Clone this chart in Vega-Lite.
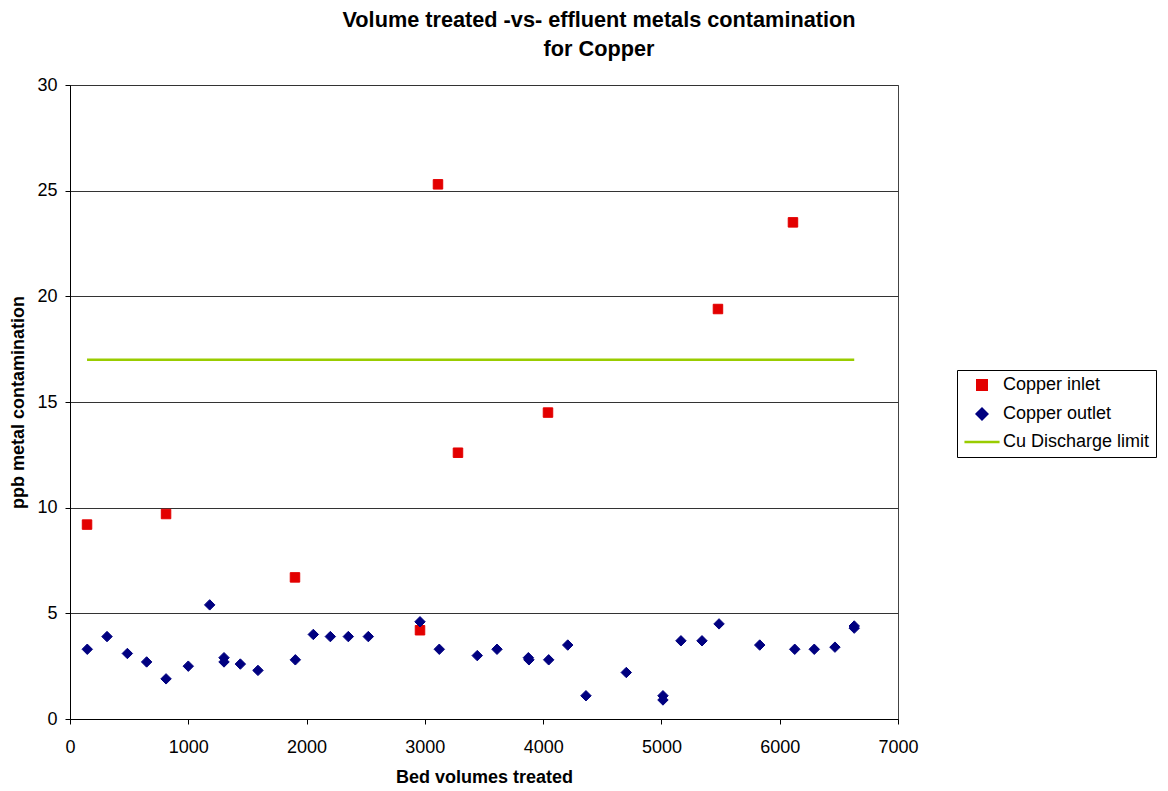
{
  "$schema": "https://vega.github.io/schema/vega-lite/v6.json",
  "width": 828,
  "height": 634,
  "autosize": {"type": "none"},
  "padding": {"left": 70, "top": 85, "right": 270, "bottom": 72},
  "background": "white",
  "config": {
    "font": "Liberation Sans",
    "view": {"stroke": "#444444", "strokeWidth": 1}
  },
  "title": {
    "text": ["Volume treated -vs- effluent metals contamination", "for Copper"],
    "font": "Liberation Sans",
    "fontSize": 21.7,
    "fontWeight": "bold",
    "color": "#000000",
    "anchor": "middle",
    "dx": 115,
    "offset": 15,
    "lineHeight": 29
  },
  "data": {
    "values": [
      {"bv": 144, "ppb": 9.2, "series": "Copper inlet"},
      {"bv": 812, "ppb": 9.7, "series": "Copper inlet"},
      {"bv": 1902, "ppb": 6.7, "series": "Copper inlet"},
      {"bv": 2959, "ppb": 4.2, "series": "Copper inlet"},
      {"bv": 3111, "ppb": 25.3, "series": "Copper inlet"},
      {"bv": 3280, "ppb": 12.6, "series": "Copper inlet"},
      {"bv": 4041, "ppb": 14.5, "series": "Copper inlet"},
      {"bv": 5478, "ppb": 19.4, "series": "Copper inlet"},
      {"bv": 6112, "ppb": 23.5, "series": "Copper inlet"},
      {"bv": 146, "ppb": 3.3, "series": "Copper outlet"},
      {"bv": 313, "ppb": 3.9, "series": "Copper outlet"},
      {"bv": 485, "ppb": 3.1, "series": "Copper outlet"},
      {"bv": 648, "ppb": 2.7, "series": "Copper outlet"},
      {"bv": 812, "ppb": 1.9, "series": "Copper outlet"},
      {"bv": 1000, "ppb": 2.5, "series": "Copper outlet"},
      {"bv": 1181, "ppb": 5.4, "series": "Copper outlet"},
      {"bv": 1302, "ppb": 2.9, "series": "Copper outlet"},
      {"bv": 1302, "ppb": 2.7, "series": "Copper outlet"},
      {"bv": 1440, "ppb": 2.6, "series": "Copper outlet"},
      {"bv": 1589, "ppb": 2.3, "series": "Copper outlet"},
      {"bv": 1905, "ppb": 2.8, "series": "Copper outlet"},
      {"bv": 2057, "ppb": 4.0, "series": "Copper outlet"},
      {"bv": 2201, "ppb": 3.9, "series": "Copper outlet"},
      {"bv": 2353, "ppb": 3.9, "series": "Copper outlet"},
      {"bv": 2522, "ppb": 3.9, "series": "Copper outlet"},
      {"bv": 2959, "ppb": 4.6, "series": "Copper outlet"},
      {"bv": 3122, "ppb": 3.3, "series": "Copper outlet"},
      {"bv": 3443, "ppb": 3.0, "series": "Copper outlet"},
      {"bv": 3610, "ppb": 3.3, "series": "Copper outlet"},
      {"bv": 3875, "ppb": 2.9, "series": "Copper outlet"},
      {"bv": 3880, "ppb": 2.8, "series": "Copper outlet"},
      {"bv": 4047, "ppb": 2.8, "series": "Copper outlet"},
      {"bv": 4208, "ppb": 3.5, "series": "Copper outlet"},
      {"bv": 4362, "ppb": 1.1, "series": "Copper outlet"},
      {"bv": 4703, "ppb": 2.2, "series": "Copper outlet"},
      {"bv": 5013, "ppb": 1.1, "series": "Copper outlet"},
      {"bv": 5013, "ppb": 0.9, "series": "Copper outlet"},
      {"bv": 5165, "ppb": 3.7, "series": "Copper outlet"},
      {"bv": 5343, "ppb": 3.7, "series": "Copper outlet"},
      {"bv": 5487, "ppb": 4.5, "series": "Copper outlet"},
      {"bv": 5831, "ppb": 3.5, "series": "Copper outlet"},
      {"bv": 6127, "ppb": 3.3, "series": "Copper outlet"},
      {"bv": 6292, "ppb": 3.3, "series": "Copper outlet"},
      {"bv": 6467, "ppb": 3.4, "series": "Copper outlet"},
      {"bv": 6630, "ppb": 4.3, "series": "Copper outlet"},
      {"bv": 6630, "ppb": 4.4, "series": "Copper outlet"},
      {"bv": 144, "ppb": 17, "series": "Cu Discharge limit"},
      {"bv": 6630, "ppb": 17, "series": "Cu Discharge limit"}
    ]
  },
  "encoding": {
    "x": {
      "field": "bv",
      "type": "quantitative",
      "scale": {"domain": [0, 7000], "nice": false, "zero": true},
      "axis": {
        "title": "Bed volumes treated",
        "values": [0, 1000, 2000, 3000, 4000, 5000, 6000, 7000],
        "format": "d",
        "grid": false,
        "domainColor": "#000000",
        "tickColor": "#000000",
        "tickSize": 5,
        "labelFontSize": 18,
        "labelColor": "#000000",
        "labelPadding": 14,
        "labelFlush": false,
        "titleFontSize": 18,
        "titleFontWeight": "bold",
        "titleColor": "#000000",
        "titlePadding": 12
      }
    },
    "y": {
      "field": "ppb",
      "type": "quantitative",
      "scale": {"domain": [0, 30], "nice": false},
      "axis": {
        "title": "ppb metal contamination",
        "values": [0, 5, 10, 15, 20, 25, 30],
        "grid": true,
        "gridColor": "#333333",
        "gridOpacity": 1,
        "domainColor": "#000000",
        "tickColor": "#000000",
        "tickSize": 5,
        "labelFontSize": 18,
        "labelColor": "#000000",
        "labelPadding": 8,
        "titleFontSize": 18,
        "titleFontWeight": "bold",
        "titleColor": "#000000",
        "titlePadding": 9
      }
    }
  },
  "layer": [
    {
      "transform": [{"filter": "datum.series == 'Cu Discharge limit'"}],
      "mark": {"type": "line", "strokeWidth": 2.5},
      "encoding": {
        "stroke": {
          "field": "series",
          "type": "nominal",
          "scale": {
            "domain": ["Copper inlet", "Copper outlet", "Cu Discharge limit"],
            "range": ["#E30000", "#000080", "#99CC00"]
          },
          "legend": {
            "orient": "none",
            "legendX": 887,
            "legendY": 285,
            "title": null,
            "strokeColor": "#000000",
            "fillColor": "#ffffff",
            "padding": 6,
            "rowPadding": 8,
            "labelFontSize": 18,
            "labelColor": "#000000",
            "labelOffset": 12,
            "symbolOffset": 10,
            "symbolSize": 90,
            "symbolStrokeWidth": 2.5
          }
        }
      }
    },
    {
      "transform": [{"filter": "datum.series != 'Cu Discharge limit'"}],
      "mark": {"type": "point", "filled": true, "strokeWidth": 1, "opacity": 1, "size": 90},
      "encoding": {
        "fill": {
          "field": "series",
          "type": "nominal",
          "scale": {
            "domain": ["Copper inlet", "Copper outlet", "Cu Discharge limit"],
            "range": ["#E30000", "#000080", "#99CC00"]
          }
        },
        "stroke": {
          "field": "series",
          "type": "nominal"
        },
        "shape": {
          "field": "series",
          "type": "nominal",
          "scale": {
            "domain": ["Copper inlet", "Copper outlet", "Cu Discharge limit"],
            "range": ["square", "M-1.1,0L0,-1.1L1.1,0L0,1.1Z", "M-3.7,0L3.7,0"]
          }
        }
      }
    }
  ]
}
